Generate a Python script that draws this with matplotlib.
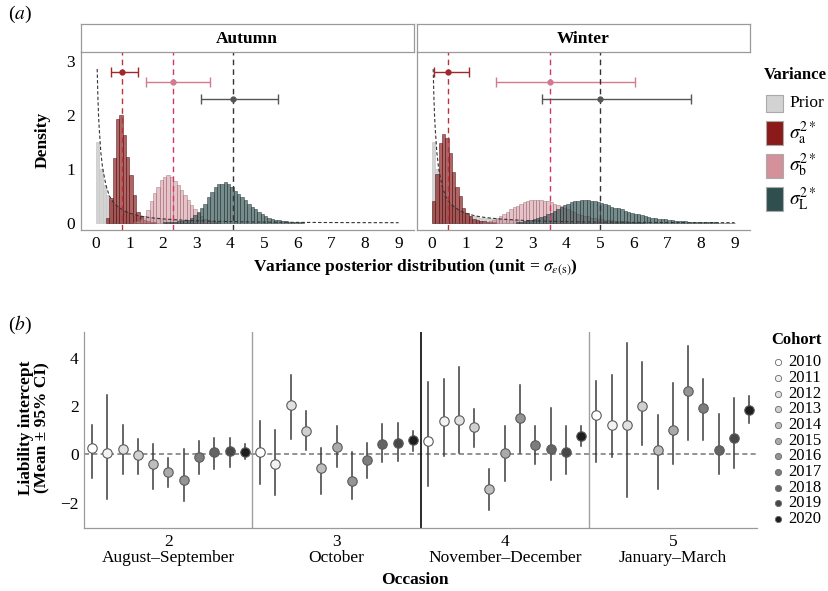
import matplotlib
matplotlib.use("Agg")
import matplotlib.pyplot as plt
import numpy as np
from matplotlib.patches import Rectangle
from matplotlib.lines import Line2D

plt.rcParams["font.family"] = ["Liberation Serif", "DejaVu Serif"]
plt.rcParams["mathtext.fontset"] = "stix"

W, H = 829, 591


def fx(px):
    return px / W


def fy(py):
    return 1 - py / H


# ── Panel (a) data: histogram bin heights (bin width 0.1) ─────────────────────
BIN = 0.1
PRIOR_START = 0.0
prior_hist = [1.5, 1.0, 0.7, 0.52, 0.42, 0.35, 0.30, 0.26, 0.23, 0.20,
              0.15, 0.13, 0.12, 0.11, 0.10, 0.095, 0.09, 0.085, 0.08, 0.075,
              0.07, 0.065, 0.06, 0.057, 0.054, 0.051, 0.048, 0.045, 0.042, 0.04]
prior_x = [0.04, 0.06, 0.08, 0.1, 0.15, 0.2, 0.3, 0.4, 0.5, 0.6, 0.8, 1.0, 1.3,
           1.6, 2.0, 2.5, 3.0, 4.0, 5.0, 6.0, 7.0, 8.0, 9.0]
prior_y = [2.85, 2.35, 2.0, 1.75, 1.3, 1.02, 0.7, 0.5, 0.4, 0.33, 0.24, 0.18, 0.13,
           0.1, 0.075, 0.055, 0.04, 0.025, 0.016, 0.011, 0.008, 0.006, 0.005]

aut_a_start = 0.3
aut_a = [0.09, 0.46, 1.21, 1.93, 1.99, 1.63, 1.23, 0.89, 0.52, 0.21, 0.12, 0.06,
         0.03, 0.02, 0.01]
aut_b_start = 1.1
aut_b = [0.02, 0.04, 0.07, 0.12, 0.24, 0.40, 0.55, 0.67, 0.80, 0.86, 0.88, 0.85,
         0.78, 0.70, 0.61, 0.52, 0.43, 0.33, 0.26, 0.18, 0.12, 0.07, 0.05, 0.03,
         0.02, 0.01]
aut_l_start = 2.0
aut_l = [0.01, 0.01, 0.02, 0.02, 0.03, 0.04, 0.05, 0.06, 0.09, 0.15, 0.21, 0.27,
         0.36, 0.49, 0.58, 0.67, 0.72, 0.73, 0.75, 0.72, 0.67, 0.59, 0.53, 0.49,
         0.43, 0.36, 0.30, 0.25, 0.20, 0.16, 0.12, 0.10, 0.07, 0.06, 0.05, 0.04,
         0.03, 0.02, 0.02, 0.01, 0.01, 0.01]

win_a_start = 0.0
win_a = [0.41, 0.90, 1.48, 1.65, 1.57, 1.30, 0.94, 0.67, 0.50, 0.27, 0.18, 0.12,
         0.08, 0.06, 0.04, 0.03, 0.02, 0.01, 0.01]
win_b_start = 1.5
win_b = [0.01, 0.02, 0.04, 0.06, 0.09, 0.13, 0.17, 0.21, 0.25, 0.29, 0.32, 0.35,
         0.38, 0.41, 0.42, 0.43, 0.43, 0.42, 0.41, 0.40, 0.38, 0.35, 0.33, 0.31,
         0.28, 0.25, 0.23, 0.20, 0.17, 0.15, 0.13, 0.12, 0.10, 0.09, 0.08, 0.07,
         0.06, 0.06, 0.05, 0.04, 0.04, 0.03, 0.03, 0.02, 0.02, 0.02, 0.01, 0.01]
win_l_start = 2.5
win_l = [0.01, 0.02, 0.03, 0.04, 0.05, 0.07, 0.09, 0.11, 0.13, 0.16, 0.19, 0.22,
         0.26, 0.30, 0.33, 0.36, 0.38, 0.40, 0.41, 0.42, 0.43, 0.42, 0.41, 0.40,
         0.38, 0.37, 0.35, 0.33, 0.30, 0.28, 0.27, 0.25, 0.23, 0.21, 0.19, 0.17,
         0.16, 0.14, 0.13, 0.11, 0.10, 0.09, 0.08, 0.07, 0.065, 0.06, 0.05, 0.045,
         0.04, 0.035, 0.03, 0.027, 0.024, 0.021, 0.018, 0.015, 0.013, 0.011, 0.01,
         0.009, 0.008, 0.007, 0.006, 0.005, 0.004]

# posterior mean and 95% CI for sigma_a, sigma_b, sigma_L
ci_row = [2.8, 2.6, 2.3]
aut_mean = [0.77, 2.28, 4.08]
aut_lo = [0.45, 1.48, 3.12]
aut_hi = [1.25, 3.38, 5.42]
win_mean = [0.49, 3.50, 5.00]
win_lo = [0.07, 1.92, 3.27]
win_hi = [1.11, 6.05, 7.70]

# ── Panel (b) data: liability intercept per occasion and cohort ───────────────
cohorts = ["2010", "2011", "2012", "2013", "2014", "2015", "2016", "2017",
           "2018", "2019", "2020"]
occasions = ["2\nAugust–September", "3\nOctober", "4\nNovember–December",
             "5\nJanuary–March"]
occ2_mean = [0.26, 0.04, 0.23, -0.01, -0.40, -0.72, -1.07, -0.11, 0.08, 0.15, 0.10]
occ2_lo = [-1.00, -1.86, -0.83, -0.83, -1.42, -1.34, -1.94, -0.80, -0.59, -0.51, -0.21]
occ2_hi = [1.21, 2.45, 1.21, 0.63, 0.44, -0.15, 0.21, 0.55, 0.70, 0.70, 0.43]
occ3_mean = [0.10, -0.39, 2.04, 0.96, -0.58, 0.32, -1.09, -0.25, 0.44, 0.48, 0.62]
occ3_lo = [-1.24, -1.67, 0.65, 0.17, -1.63, -0.51, -1.86, -0.96, -0.32, -0.28, 0.14]
occ3_hi = [1.40, 1.03, 3.28, 1.82, 0.26, 1.17, 0.12, 0.47, 1.25, 1.32, 0.99]
occ4_mean = [0.56, 1.39, 1.45, 1.14, -1.43, 0.07, 1.53, 0.39, 0.22, 0.08, 0.77]
occ4_lo = [-1.31, -0.07, 0.04, 0.29, -2.29, -1.12, 0.04, -0.41, -1.07, -0.81, 0.34]
occ4_hi = [2.99, 3.14, 3.64, 1.89, -0.59, 1.17, 2.87, 1.17, 1.91, 1.17, 1.17]
occ5_mean = [1.65, 1.24, 1.21, 2.02, 0.19, 1.02, 2.64, 1.93, 0.18, 0.70, 1.83]
occ5_lo = [-0.32, -0.12, -1.75, 0.40, -1.45, -0.39, 0.59, 0.61, -0.81, -0.58, 1.29]
occ5_hi = [3.04, 3.28, 4.64, 3.86, 1.63, 2.95, 4.52, 3.15, 1.68, 2.34, 2.42]

# ── Styles ─────────────────────────────────────────────────────────────────────
C_PRIOR = "#D3D3D3"
C_A = "#8B1A1A"
C_B = "#D4909B"
C_L = "#2F4F4F"
VLINE = ["#C0303A", "#D63462", "#333333"]
CI_COL = ["#A0282D", "#D27A90", "#555555"]
cohort_fill = ["#FFFFFF", "#F2F2F2", "#E1E1E1", "#D0D0D0", "#BEBEBE", "#AAAAAA",
               "#949494", "#7D7D7D", "#646464", "#484848", "#1E1E1E"]
SPINE = "#9A9A9A"
FS = 12.5

fig = plt.figure(figsize=(W / 100, H / 100), dpi=100)


def draw_hist(ax, start, heights, color, alpha, edge):
    x = start + BIN * np.arange(len(heights))
    ax.bar(x, heights, width=BIN, align="edge", color=color, alpha=alpha,
           edgecolor=edge, linewidth=0.5)


def style_axes(ax):
    for s in ["top", "right"]:
        ax.spines[s].set_visible(False)
    for s in ["left", "bottom"]:
        ax.spines[s].set_color(SPINE)
        ax.spines[s].set_linewidth(0.9)
    ax.tick_params(length=0, labelsize=FS, pad=4, colors="black")


# ── Panel (a) ──────────────────────────────────────────────────────────────────
panels = [
    ("Autumn", 80.7, [(aut_a_start, aut_a), (aut_b_start, aut_b), (aut_l_start, aut_l)],
     aut_mean, aut_lo, aut_hi),
    ("Winter", 416.7, [(win_a_start, win_a), (win_b_start, win_b), (win_l_start, win_l)],
     win_mean, win_lo, win_hi),
]
ax_w = 333.0
for title, left, hists, mean, lo, hi in panels:
    ax = fig.add_axes([fx(left), fy(230), ax_w / W, (230 - 51.7) / H])
    draw_hist(ax, PRIOR_START, prior_hist, C_PRIOR, 1.0, "#C8C8C8")
    for (start, h), col, alpha, edge in zip(
            hists, [C_A, C_B, C_L], [0.68, 0.55, 0.66], ["#4A1010", "#8A5A62", "#1E2E2E"]):
        draw_hist(ax, start, h, col, alpha, edge)
    ax.plot(prior_x, prior_y, color="#333333", lw=0.8, ls=(0, (3, 2)))
    for k in range(3):
        ax.axvline(mean[k], color=VLINE[k], lw=1.0, ls=(0, (4, 3)))
        ax.errorbar(mean[k], ci_row[k], xerr=[[mean[k] - lo[k]], [hi[k] - mean[k]]],
                    fmt="o", color=CI_COL[k], ms=3.5, capsize=3.5, elinewidth=1.0,
                    capthick=1.0)
    ax.set_xlim(-0.45, 9.45)
    ax.set_ylim(-0.13, 3.17)
    ax.set_xticks(range(10))
    ax.set_yticks([0, 1, 2, 3])
    style_axes(ax)
    if title == "Winter":
        ax.set_yticklabels([])

    strip = fig.add_axes([fx(left), fy(51.7), ax_w / W, (51.7 - 24.3) / H])
    strip.set_xticks([])
    strip.set_yticks([])
    for s in strip.spines.values():
        s.set_color(SPINE)
        s.set_linewidth(0.9)
    strip.text(0.5, 0.48, title, ha="center", va="center", fontsize=FS,
               fontweight="bold", transform=strip.transAxes)

fig.text(fx(20), fy(14), r"($\mathit{a}$)", fontsize=14, ha="center", va="center")
fig.text(fx(43), fy(140), "Density", rotation=90, ha="center", va="center",
         fontsize=FS, fontweight="bold")
fig.text(fx(415), fy(268),
         r"Variance posterior distribution (unit = $\sigma_{\varepsilon(\mathrm{s})}$)",
         ha="center", va="center", fontsize=FS, fontweight="bold")

# legend (a)
fig.text(fx(764), fy(75), "Variance", ha="left", va="center", fontsize=12,
         fontweight="bold")
leg_items = [
    (C_PRIOR, "Prior", 94.5, 17),
    (C_A, r"$\sigma^{2*}_{\mathrm{a}}$", 121, 24),
    (C_B, r"$\sigma^{2*}_{\mathrm{b}}$", 153.5, 24),
    (C_L, r"$\sigma^{2*}_{\mathrm{L}}$", 187, 24),
]
for col, lab, top, hgt in leg_items:
    fig.add_artist(Rectangle((fx(766), fy(top + hgt)), 17 / W, hgt / H,
                             facecolor=col, edgecolor="#AAAAAA", lw=0.8,
                             transform=fig.transFigure))
    fig.text(fx(789), fy(top + hgt / 2), lab, ha="left", va="center",
             fontsize=FS if lab == "Prior" else 14)

# ── Panel (b) ──────────────────────────────────────────────────────────────────
axb = fig.add_axes([fx(84.3), fy(528.3), (757 - 84.3) / W, (528.3 - 331.7) / H])
means = [occ2_mean, occ3_mean, occ4_mean, occ5_mean]
los = [occ2_lo, occ3_lo, occ4_lo, occ5_lo]
his = [occ2_hi, occ3_hi, occ4_hi, occ5_hi]
ncoh = len(cohorts)
axb.axhline(0, color="#808080", lw=1.2, ls=(0, (3, 2)), zorder=1)
axb.axvline(1.5, color="#A0A0A0", lw=1.0, zorder=1)
axb.axvline(2.5, color="#1A1A1A", lw=1.3, zorder=1)
axb.axvline(3.5, color="#A0A0A0", lw=1.0, zorder=1)
for o in range(len(occasions)):
    for i in range(ncoh):
        xpos = o + 1 + (i - (ncoh - 1) / 2) / ncoh
        axb.plot([xpos, xpos], [los[o][i], his[o][i]], color="#3C3C3C", lw=1.1,
                 zorder=2)
        axb.plot(xpos, means[o][i], "o", ms=6.8, mfc=cohort_fill[i], mec="#5A5A5A",
                 mew=0.8, zorder=3)
axb.set_xlim(0.5, 4.5)
axb.set_ylim(-3.07, 5.1)
axb.set_yticks([-2, 0, 2, 4])
axb.set_xticks(range(1, 5))
axb.set_xticklabels(occasions, linespacing=1.05)
style_axes(axb)

fig.text(fx(20), fy(325), r"($\mathit{b}$)", fontsize=14, ha="center", va="center")
fig.text(fx(34), fy(428), "Liability intercept\n(Mean ± 95% CI)", rotation=90,
         ha="center", va="center", fontsize=FS, fontweight="bold", linespacing=1.0)
fig.text(fx(415), fy(580), "Occasion", ha="center", va="center", fontsize=FS,
         fontweight="bold")

# legend (b)
fig.text(fx(771), fy(340), "Cohort", ha="left", va="center", fontsize=12,
         fontweight="bold")
for i, lab in enumerate(cohorts):
    ypx = 362.3 + i * 15.67
    fig.add_artist(Line2D([fx(778)], [fy(ypx)], marker="o", ms=4.5, ls="none",
                          mfc=cohort_fill[i], mec="#6A6A6A", mew=0.6,
                          transform=fig.transFigure))
    fig.text(fx(788), fy(ypx), lab, ha="left", va="center", fontsize=12)

fig.savefig("out.png", dpi=100)
